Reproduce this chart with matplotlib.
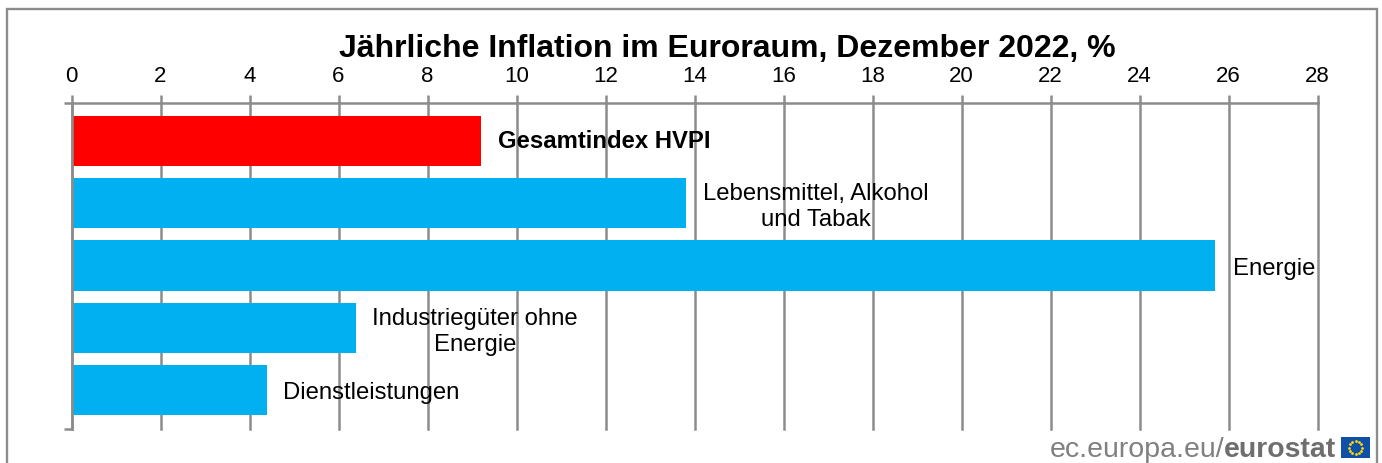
import numpy as np
import matplotlib
matplotlib.use('agg')
import matplotlib.pyplot as plt
from matplotlib.patches import Rectangle

W, H = 1382, 463

categories = ['Gesamtindex HVPI', 'Lebensmittel, Alkohol\nund Tabak', 'Energie',
              'Industriegüter ohne\nEnergie', 'Dienstleistungen']
values = [9.2, 13.8, 25.7, 6.4, 4.4]
bar_colors = ['#ff0000', '#00b0f0', '#00b0f0', '#00b0f0', '#00b0f0']
x_ticks = list(range(0, 29, 2))

plt.rcParams['font.family'] = ['Liberation Sans', 'DejaVu Sans']

GREY = '#8c8c8c'
fig = plt.figure(figsize=(W / 100, H / 100), dpi=100)

def fx(px):
    return px / W

def fy(py):
    return 1 - py / H

# outer frame, the bottom edge runs off the picture
fig.add_artist(Rectangle((fx(6.5), fy(480)), fx(1377 - 6.5), (480 - 9) / H, transform=fig.transFigure,
                         fill=False, edgecolor=GREY, linewidth=1.7))

ax = fig.add_axes([fx(71.5), fy(428.5), fx(1317.5 - 71.5), (428.5 - 103.5) / H])
y = np.arange(len(values))
ax.barh(y, values, height=0.805, color=bar_colors, zorder=3)
ax.set_xlim(0, 28)
ax.set_ylim(4 + 0.62, -0.605)

ax.xaxis.tick_top()
ax.set_xticks(x_ticks)
ax.tick_params(axis='x', length=5.5, width=1.8, color=GREY, labelsize=16, pad=6.5, labelcolor='black')
ax.set_yticks(ax.get_ylim())
ax.set_yticklabels([])
ax.tick_params(axis='y', length=5.5, width=1.8, color=GREY)
ax.grid(axis='x', color=GREY, linewidth=1.8, zorder=0, clip_on=False)
ax.set_axisbelow(True)
for s in ['right', 'bottom']:
    ax.spines[s].set_visible(False)
for s in ['left', 'top']:
    ax.spines[s].set_color(GREY)
    ax.spines[s].set_linewidth(1.8)
    ax.spines[s].set_zorder(4)

# labels sit by hand next to the bars, like in the original
label_px = [(604.5, 142), (816, 207), (1274, 269), (475, 332), (371.5, 393)]
for i, name in enumerate(categories):
    fig.text(fx(label_px[i][0]), fy(label_px[i][1]), name, ha='center', va='center', fontsize=17.2,
             fontweight='bold' if i == 0 else 'normal', color='black', linespacing=1.27)

fig.text(fx(727), fy(49), 'Jährliche Inflation im Euroraum, Dezember 2022, %', ha='center', va='center',
         fontsize=23, fontweight='bold', color='black')

# eurostat mark
fig.text(fx(1224), fy(450), 'ec.europa.eu/', ha='right', va='center', fontsize=20.5, color='#808080')
fig.text(fx(1224), fy(450), 'eurostat', ha='left', va='center', fontsize=20.4, fontweight='bold', color='#6e6e6e')

flag = fig.add_axes([fx(1341), fy(458), fx(29), 21 / H])
flag.set_facecolor('#0f4fa8')
flag.set_xticks([])
flag.set_yticks([])
for s in flag.spines.values():
    s.set_visible(False)
flag.set_xlim(-1.45, 1.45)
flag.set_ylim(-1.05, 1.05)
a = np.arange(12) * np.pi / 6
flag.scatter(0.68 * np.cos(a), 0.68 * np.sin(a), s=4, color='#ffdd00', linewidths=0)

fig.savefig('out.png', dpi=100)
